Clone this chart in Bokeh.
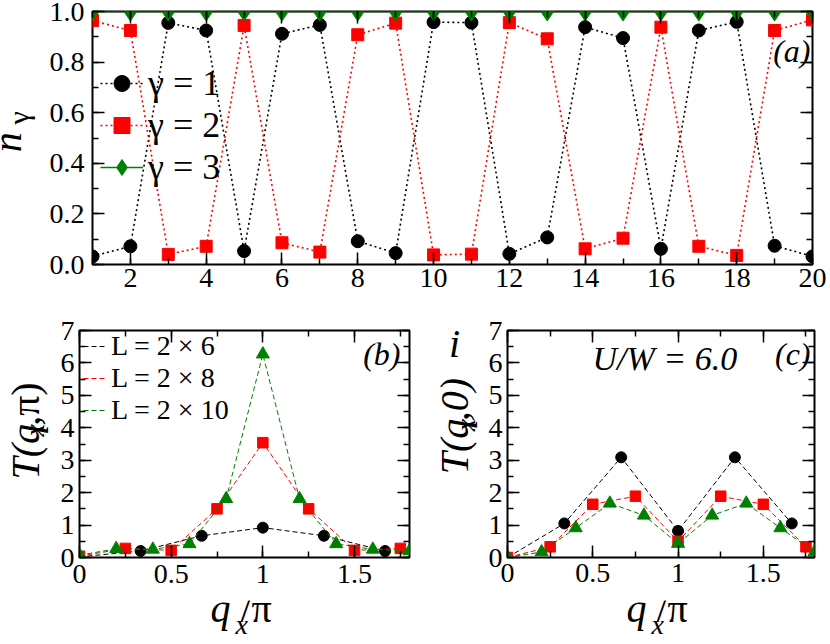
import numpy as np
from bokeh.plotting import figure
from bokeh.models import (Range1d, LinearAxis, FixedTicker, Label, Legend, LegendItem,
                          CustomJSTickFormatter)
from bokeh.layouts import column, row
from bokeh.embed import file_html
from bokeh.resources import INLINE

FONT = "Liberation Serif"

# ---------------- data ----------------
site = list(range(1, 21))
n_gamma1 = [0.032, 0.072, 0.955, 0.925, 0.053, 0.912, 0.947, 0.092, 0.045, 0.958,
            0.956, 0.042, 0.107, 0.938, 0.895, 0.062, 0.925, 0.959, 0.074, 0.032]
n_gamma2 = [0.964, 0.925, 0.040, 0.072, 0.945, 0.086, 0.049, 0.908, 0.954, 0.038,
            0.041, 0.956, 0.892, 0.062, 0.104, 0.938, 0.072, 0.036, 0.925, 0.967]
n_gamma3 = [1.0, 1.0, 1.0, 1.0, 1.0, 1.0, 1.0, 1.0, 1.0, 1.0,
            1.0, 1.0, 1.0, 1.0, 1.0, 1.0, 1.0, 1.0, 1.0, 1.0]

q_L6 = [0.0, 1/3, 2/3, 1.0, 4/3, 5/3]
q_L8 = [0.0, 0.25, 0.5, 0.75, 1.0, 1.25, 1.5, 1.75]
q_L10 = [0.0, 0.2, 0.4, 0.6, 0.8, 1.0, 1.2, 1.4, 1.6, 1.8]

Tpi_L6 = [0.02, 0.20, 0.67, 0.92, 0.67, 0.20]
Tpi_L8 = [0.04, 0.28, 0.22, 1.50, 3.54, 1.50, 0.22, 0.28]
Tpi_L10 = [0.07, 0.27, 0.25, 0.42, 1.81, 6.27, 1.81, 0.42, 0.25, 0.20]

T0_L6 = [0.0, 1.05, 3.09, 0.82, 3.09, 1.05]
T0_L8 = [0.0, 0.33, 1.64, 1.89, 0.50, 1.89, 1.64, 0.33]
T0_L10 = [0.0, 0.17, 0.91, 1.67, 1.30, 0.43, 1.30, 1.67, 0.91, 0.17]

legend_a = ["γ = 1", "γ = 2", "γ = 3"]
legend_b = ["L = 2 × 6", "L = 2 × 8", "L = 2 × 10"]

a_yticks = [0.0, 0.2, 0.4, 0.6, 0.8, 1.0]
a_ylabels = ["0.0", "0.2", "0.4", "0.6", "0.8", "1.0"]
q_ticks = [0.0, 0.5, 1.0, 1.5]
q_labels = ["0", "0.5", "1", "1.5"]

# ---------------- helpers ----------------
MID = 0.3375   # baseline offset of the text middle, in em (Liberation Serif)
R90 = np.pi / 2


class Geo:
    """frame geometry in page pixels -> data coordinates"""
    def __init__(self, L, T, R, B, x0, x1, y0, y1):
        self.L, self.T, self.R, self.B = L, T, R, B
        self.x0, self.x1, self.y0, self.y1 = x0, x1, y0, y1

    def x(self, X):
        return self.x0 + (X - self.L) / (self.R - self.L) * (self.x1 - self.x0)

    def y(self, Y):
        return self.y0 + (self.B - Y) / (self.B - self.T) * (self.y1 - self.y0)


def make_fig(g, cl, ct, cr, cb):
    p = figure(width=cr - cl, height=cb - ct,
               min_border_left=g.L - cl, min_border_right=cr - g.R,
               min_border_top=g.T - ct, min_border_bottom=cb - g.B,
               x_range=Range1d(g.x0, g.x1), y_range=Range1d(g.y0, g.y1),
               output_backend="svg", toolbar_location=None, tools="")
    p.grid.visible = False
    p.outline_line_color = "black"
    p.outline_line_width = 2
    p.background_fill_color = "white"
    p.border_fill_color = "white"
    return p


def text_fig(cl, ct, cr, cb):
    w, h = cr - cl, cb - ct
    p = figure(width=w, height=h, x_range=Range1d(0, w), y_range=Range1d(h, 0),
               min_border_left=0, min_border_right=0, min_border_top=0,
               min_border_bottom=0, x_axis_type=None, y_axis_type=None,
               output_backend="svg", toolbar_location=None, tools="")
    p.outline_line_color = None
    p.background_fill_color = "white"
    p.border_fill_color = "white"
    p._origin = (cl, ct)
    return p


def style_axis(ax, ticker, size, standoff, labels=True, major=12, minor=6):
    ax.ticker = ticker
    ax.axis_line_color = None
    ax.major_tick_in = major
    ax.major_tick_out = 0
    ax.minor_tick_in = minor
    ax.minor_tick_out = 0
    ax.major_tick_line_width = 1.5
    ax.minor_tick_line_width = 1.5
    ax.major_tick_line_color = "black"
    ax.minor_tick_line_color = "black"
    ax.major_label_text_font = FONT
    ax.major_label_text_color = "black"
    if labels:
        ax.major_label_text_font_size = f"{size}px"
        ax.major_label_standoff = standoff
    else:
        ax.formatter = CustomJSTickFormatter(code="return ''")
        ax.major_label_text_font_size = "1px"
        ax.major_label_standoff = 0


def add_axes(p, xt, yt, xstand, ystand, xover=None, yover=None):
    style_axis(p.xaxis[0], xt, 28, xstand)
    style_axis(p.yaxis[0], yt, 28, ystand)
    if xover:
        p.xaxis[0].major_label_overrides = xover
    if yover:
        p.yaxis[0].major_label_overrides = yover
    top = LinearAxis()
    style_axis(top, xt, 28, 0, labels=False)
    right = LinearAxis()
    style_axis(right, yt, 28, 0, labels=False)
    p.add_layout(top, "above")
    p.add_layout(right, "right")


def _mid(X, Y, size, angle):
    # convert a baseline anchor (page px) into a "middle" anchor
    if angle:
        return X - MID * size, Y
    return X, Y - MID * size


def txt(p, g, X, Y, s, size, style="normal", align="left", angle=0.0):
    X, Y = _mid(X, Y, size, angle)
    p.add_layout(Label(x=g.x(X), y=g.y(Y), text=s, text_font=FONT,
                       text_font_size=f"{size}px", text_font_style=style,
                       text_align=align, text_baseline="middle",
                       text_color="black", angle=angle))


def ptxt(p, X, Y, s, size, style="normal", align="left", angle=0.0):
    X, Y = _mid(X, Y, size, angle)
    ox, oy = p._origin
    p.add_layout(Label(x=X - ox, y=Y - oy, text=s, text_font=FONT,
                       text_font_size=f"{size}px", text_font_style=style,
                       text_align=align, text_baseline="middle",
                       text_color="black", angle=angle))


def style_legend(leg, size, gw, gh, standoff):
    leg.label_text_font = FONT
    leg.label_text_font_size = f"{size}px"
    leg.label_text_color = "black"
    leg.glyph_width = gw
    leg.glyph_height = gh
    leg.label_height = gh
    leg.label_standoff = standoff
    leg.spacing = 0
    leg.padding = 0
    leg.margin = 0
    leg.background_fill_alpha = 0
    leg.border_line_color = None


# ---------------- row 1: panel (a) ----------------
la_fig = text_fig(0, 0, 44, 300)
ptxt(la_fig, 20, 167, "n", 40, "italic", angle=R90)
ptxt(la_fig, 28, 134, "γ", 30, "normal", angle=R90)

ga = Geo(92, 11, 812, 264, 1, 20, 0, 1)
pa = make_fig(ga, 44, 0, 830, 300)
add_axes(pa,
         FixedTicker(ticks=list(range(2, 21, 2)), minor_ticks=list(range(1, 21))),
         FixedTicker(ticks=a_yticks, minor_ticks=[k / 10 for k in range(0, 11)]),
         4, 8, yover=dict(zip(a_yticks, a_ylabels)))

la1 = pa.line(site, n_gamma1, line_color="black", line_width=1.6, line_dash="2 3")
sa1 = pa.scatter(site, n_gamma1, marker="circle", size=13, color="black")
la2 = pa.line(site, n_gamma2, line_color="red", line_width=1.6, line_dash="2 3")
sa2 = pa.scatter(site, n_gamma2, marker="square", size=12, color="red")
la3 = pa.line(site, n_gamma3, line_color="green", line_width=1.5)
sa3 = pa.scatter(site, n_gamma3, marker="diamond", size=19, color="green")

leg_a = Legend(items=[LegendItem(label=legend_a[0], renderers=[la1, sa1]),
                      LegendItem(label=legend_a[1], renderers=[la2, sa2]),
                      LegendItem(label=legend_a[2], renderers=[la3, sa3])],
               location=(8, 76))
style_legend(leg_a, 36, 43, 40, 5)
pa.add_layout(leg_a)
txt(pa, ga, 810, 61, "(a)", 32, "italic", align="right")

# ---------------- row 2: panels (b) and (c) ----------------
lb_fig = text_fig(0, 300, 50, 600)
ptxt(lb_fig, 38, 497, "T(q", 40, "italic", angle=R90)
ptxt(lb_fig, 43, 440, "x", 28, "italic", angle=R90)
ptxt(lb_fig, 38, 426, ",π)", 40, "normal", angle=R90)

gb = Geo(79, 330, 409, 561, 0, 1.8, 0, 7)
pb = make_fig(gb, 50, 300, 425, 600)
add_axes(pb, FixedTicker(ticks=q_ticks, minor_ticks=[k * 0.25 for k in range(0, 8)]),
         FixedTicker(ticks=list(range(0, 8)), minor_ticks=[k * 0.5 for k in range(0, 15)]),
         7, 5, xover=dict(zip(q_ticks, q_labels)))

lb6 = pb.line(q_L6, Tpi_L6, line_color="black", line_width=1, line_dash="5 3")
pb.scatter(q_L6, Tpi_L6, marker="circle", size=11, color="black")
lb8 = pb.line(q_L8, Tpi_L8, line_color="red", line_width=1, line_dash="5 3")
pb.scatter(q_L8, Tpi_L8, marker="square", size=10.5, color="red")
lb10 = pb.line(q_L10, Tpi_L10, line_color="green", line_width=1, line_dash="5 3")
pb.scatter(q_L10, Tpi_L10, marker="triangle", size=13, color="green")

leg_b = Legend(items=[LegendItem(label=legend_b[0], renderers=[lb6]),
                      LegendItem(label=legend_b[1], renderers=[lb8]),
                      LegendItem(label=legend_b[2], renderers=[lb10])],
               location=(4, 131))
style_legend(leg_b, 28, 24, 32, 4)
pb.add_layout(leg_b)
txt(pb, gb, 400, 365, "(b)", 32, "italic", align="right")

lm_fig = text_fig(425, 300, 482, 600)
ptxt(lm_fig, 454, 331, "i", 40, "italic", align="center")
ptxt(lm_fig, 467, 490, "T(q", 40, "italic", angle=R90)
ptxt(lm_fig, 474, 433, "x", 28, "italic", angle=R90)
ptxt(lm_fig, 467, 420, ",0)", 40, "italic", angle=R90)

gc = Geo(507, 327, 814, 557, 0, 1.8, 0, 7)
pc = make_fig(gc, 482, 300, 830, 600)
add_axes(pc, FixedTicker(ticks=q_ticks, minor_ticks=[k * 0.25 for k in range(0, 8)]),
         FixedTicker(ticks=list(range(0, 8)), minor_ticks=[k * 0.5 for k in range(0, 15)]),
         6, 5, xover=dict(zip(q_ticks, q_labels)))

pc.line(q_L6, T0_L6, line_color="black", line_width=1, line_dash="5 3")
pc.scatter(q_L6, T0_L6, marker="circle", size=11, color="black")
pc.line(q_L8, T0_L8, line_color="red", line_width=1, line_dash="5 3")
pc.scatter(q_L8, T0_L8, marker="square", size=10.5, color="red")
pc.line(q_L10, T0_L10, line_color="green", line_width=1, line_dash="5 3")
pc.scatter(q_L10, T0_L10, marker="triangle", size=13, color="green")

txt(pc, gc, 592, 367, "U/W = 6.0", 34, "italic")
txt(pc, gc, 810, 362, "(c)", 32, "italic", align="right")

# ---------------- row 3: x-axis titles of (b) and (c) ----------------
lx_fig = text_fig(0, 600, 830, 644)
for cx in (244, 660):
    ptxt(lx_fig, cx - 34, 621, "q", 40, "italic")
    ptxt(lx_fig, cx - 9, 633, "x", 28, "italic")
    ptxt(lx_fig, cx - 4, 621, "/π", 40, "normal")

layout = column(row(la_fig, pa, spacing=0),
                row(lb_fig, pb, lm_fig, pc, spacing=0),
                lx_fig, spacing=0)
open("out.html", "w").write(file_html(layout, INLINE))
